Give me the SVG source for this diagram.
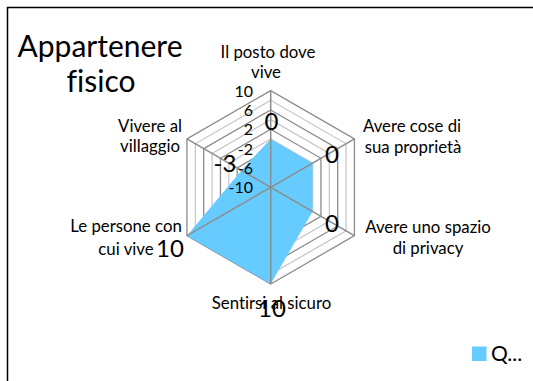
<svg xmlns="http://www.w3.org/2000/svg" width="533" height="381" viewBox="0 0 533 381">
<style>
.t{font-family:Lato,"Liberation Sans",sans-serif;fill:#000;font-variant-ligatures:none;font-feature-settings:"liga" 0}
.cat{font-size:16.8px;text-anchor:middle}
.tick{font-size:16px;text-anchor:end}
.dl{font-size:24px;text-anchor:middle}
.title{font-size:30px;text-anchor:middle}
.maj{fill:none;stroke:#8c8c8c;stroke-width:1.3}
.min{fill:none;stroke:#c9c9c9;stroke-width:1.3}
.spoke{stroke:#8c8c8c;stroke-width:1.5}
</style>
<rect width="533" height="381" fill="#fff"/>
<path d="M7.5,381 V7.5 H533" fill="none" stroke="#000" stroke-width="1.5"/>
<g id="title">
<text class="t title" x="100" y="57">Appartenere</text>
<text class="t title" x="101" y="92">fisico</text>
</g>
<g id="grid">
<polygon class="min" points="270.7,177.63 279.07,182.47 279.07,192.14 270.7,196.97 262.33,192.14 262.33,182.47"/>
<polygon class="maj" points="270.7,167.96 287.45,177.63 287.45,196.97 270.7,206.64 253.95,196.97 253.95,177.63"/>
<polygon class="min" points="270.7,158.29 295.82,172.8 295.82,201.81 270.7,216.31 245.58,201.81 245.58,172.8"/>
<polygon class="maj" points="270.7,148.62 304.2,167.96 304.2,206.64 270.7,225.98 237.2,206.64 237.2,167.96"/>
<polygon class="min" points="270.7,138.95 312.57,163.13 312.57,211.48 270.7,235.65 228.83,211.48 228.83,163.13"/>
<polygon class="maj" points="270.7,129.28 320.95,158.29 320.95,216.31 270.7,245.32 220.45,216.31 220.45,158.29"/>
<polygon class="min" points="270.7,119.61 329.32,153.46 329.32,221.15 270.7,254.99 212.08,221.15 212.08,153.46"/>
<polygon class="maj" points="270.7,109.94 337.7,148.62 337.7,225.98 270.7,264.66 203.7,225.98 203.7,148.62"/>
<polygon class="min" points="270.7,100.27 346.07,143.79 346.07,230.82 270.7,274.33 195.33,230.82 195.33,143.79"/>
<polygon class="maj" points="270.7,90.6 354.45,138.95 354.45,235.65 270.7,284 186.95,235.65 186.95,138.95"/>
</g>
<g id="series">
<polygon points="270.7,138.95 312.57,163.13 312.57,211.48 270.7,284 186.95,235.65 241.39,170.38" fill="#66ccff"/>
</g>
<g id="connectors">
<line class="spoke" x1="270.7" y1="187.3" x2="270.7" y2="90.6"/>
<line class="spoke" x1="270.7" y1="187.3" x2="354.45" y2="138.95"/>
<line class="spoke" x1="270.7" y1="187.3" x2="354.45" y2="235.65"/>
<line class="spoke" x1="270.7" y1="187.3" x2="270.7" y2="284"/>
<line class="spoke" x1="270.7" y1="187.3" x2="186.95" y2="235.65"/>
<line class="spoke" x1="270.7" y1="187.3" x2="186.95" y2="138.95"/>
</g>
<g id="ticks">
<text class="t tick" x="253" y="96.5">10</text>
<text class="t tick" x="253" y="115.8">6</text>
<text class="t tick" x="253" y="135">2</text>
<text class="t tick" x="253" y="154.5">-2</text>
<text class="t tick" x="253" y="173.8">-6</text>
<text class="t tick" x="253" y="193">-10</text>
</g>
<g id="cat-posto">
<text class="t cat" x="268" y="58">Il posto dove</text>
<text class="t cat" x="266" y="78">vive</text>
</g>
<g id="cat-cose">
<text class="t cat" x="412" y="132">Avere cose di</text>
<text class="t cat" x="413" y="153">sua proprietà</text>
</g>
<g id="cat-privacy">
<text class="t cat" x="428" y="233">Avere uno spazio</text>
<text class="t cat" x="428" y="254">di privacy</text>
</g>
<g id="cat-sicuro">
<text class="t cat" x="271.5" y="309">Sentirsi al sicuro</text>
</g>
<g id="cat-persone">
<text class="t cat" x="126" y="232">Le persone con</text>
<text class="t cat" x="126" y="255">cui vive</text>
</g>
<g id="cat-villaggio">
<text class="t cat" x="150" y="132">Vivere al</text>
<text class="t cat" x="150" y="152">villaggio</text>
</g>
<g id="data-labels">
<text class="t dl" x="271.5" y="130">0</text>
<text class="t dl" x="332" y="163">0</text>
<text class="t dl" x="332" y="232">0</text>
<text class="t dl" x="225" y="172">-3</text>
<text class="t dl" x="170" y="257">10</text>
<text class="t dl" x="272" y="317">10</text>
</g>
<g id="legend">
<rect x="472" y="346.5" width="14.5" height="14.5" fill="#66ccff"/>
<text class="t" x="491" y="361" font-size="21">Q...</text>
</g>
</svg>
